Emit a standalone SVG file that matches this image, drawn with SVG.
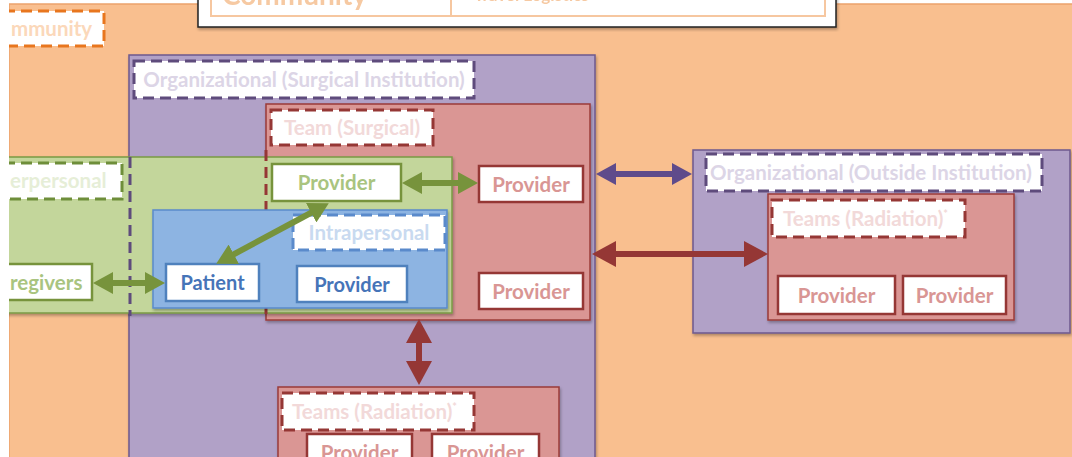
<svg xmlns="http://www.w3.org/2000/svg" width="1072" height="457" viewBox="0 0 1072 457">
<defs>
<style>
text{font-family:Lato,"Open Sans","Liberation Sans",sans-serif;font-weight:bold;}
.org{fill:#B1A1C7;stroke:#6E5A8E;stroke-width:1.5;}
.team{fill:#DA9694;stroke:#9B3B39;stroke-width:1.5;}
.grn{fill:#C3D69B;stroke:#7A9A44;stroke-width:1.5;}
.blu{fill:#8DB4E2;stroke:#5A8ACB;stroke-width:1.5;}
.lbl{fill:#FFFFFF;stroke-width:3;stroke-dasharray:11 6;}
.lp{stroke:#5E4B7C;}
.lr{stroke:#953735;}
.lg{stroke:#6E8E3A;}
.lb{stroke:#5A8ACB;}
.lo{stroke:#E8761E;}
.nd{fill:#FFFFFF;stroke-width:2.5;}
.nr{stroke:#953735;}
.ng{stroke:#77933C;}
.nb{stroke:#4F81BD;}
.tr{fill:#D99694;font-size:20.5px;}
.tg{fill:#A9C47F;font-size:20.5px;}
.tb{fill:#4674B8;font-size:20px;}
.tl{font-size:20.5px;}
.conn{fill:none;stroke-width:6;}
</style>
<filter id="sh" x="-5%" y="-5%" width="110%" height="115%">
<feDropShadow dx="1" dy="2" stdDeviation="1.5" flood-color="#000" flood-opacity="0.3"/>
</filter>
<marker id="ag" viewBox="0 0 20 22" refX="10" refY="11" markerWidth="20" markerHeight="22" markerUnits="userSpaceOnUse" orient="auto-start-reverse"><path d="M0,0 L20,11 L0,22 Z" fill="#77933C"/></marker>
<marker id="ap" viewBox="0 0 20 22" refX="10" refY="11" markerWidth="20" markerHeight="22" markerUnits="userSpaceOnUse" orient="auto-start-reverse"><path d="M0,0 L20,11 L0,22 Z" fill="#5F4B8B"/></marker>
<marker id="ar" viewBox="0 0 24 26" refX="12" refY="13" markerWidth="24" markerHeight="26" markerUnits="userSpaceOnUse" orient="auto-start-reverse"><path d="M0,0 L24,13 L0,26 Z" fill="#953735"/></marker>
</defs>
<rect x="0" y="0" width="1072" height="457" fill="#FFFFFF"/>
<g id="community">
<rect x="9" y="4" width="1070" height="460" fill="#F9BF8F" stroke="#EBA36C" stroke-width="1.5"/>
<rect x="4" y="11" width="100" height="35" class="lbl lo"/>
<text x="11" y="36" class="tl" fill="#FBD8BA">mmunity</text>
</g>
<g id="legend" filter="url(#sh)">
<rect x="198" y="-6" width="638" height="33" fill="#FFFFFF" stroke="#222222" stroke-width="1.5"/>
<rect x="211" y="-20" width="614" height="36" fill="none" stroke="#F6C7A0" stroke-width="2"/>
<line x1="451" y1="-20" x2="451" y2="16" stroke="#F6C7A0" stroke-width="2"/>
<text x="222" y="5" font-size="28" fill="#F6C9A2">Community</text>
<text x="474" y="1" font-size="17" fill="#F6C9A2">Travel Logistics</text>
</g>
<g id="org-surgical">
<rect x="129" y="55" width="466" height="410" class="org" filter="url(#sh)"/>
<rect x="134" y="61" width="340" height="37" class="lbl lp"/>
<text x="304" y="87" class="tl" fill="#DCD5E6" text-anchor="middle">Organizational (Surgical Institution)</text>
</g>
<g id="team-surgical">
<rect x="266" y="104" width="324" height="216" class="team" filter="url(#sh)"/>
<rect x="271" y="110" width="162" height="35" class="lbl lr"/>
<text x="352" y="135" class="tl" fill="#F2D9D9" text-anchor="middle">Team (Surgical)</text>
</g>
<g id="interpersonal">
<rect x="5" y="157" width="447" height="156" class="grn" filter="url(#sh)"/>
<rect x="4" y="163" width="118" height="36" class="lbl lg"/>
<text x="10" y="188" class="tl" fill="#E6EED7">erpersonal</text>
<line x1="130" y1="157" x2="130" y2="316" stroke="#5E4B7C" stroke-width="3" stroke-dasharray="11 6"/>
<line x1="266" y1="150" x2="266" y2="320" stroke="#953735" stroke-width="3" stroke-dasharray="11 6"/>
</g>
<g id="intrapersonal">
<rect x="153" y="210" width="294" height="98" class="blu" filter="url(#sh)"/>
<rect x="293" y="215" width="152" height="35" class="lbl lb"/>
<text x="369" y="240" class="tl" fill="#C9DAF0" text-anchor="middle" font-size="22">Intrapersonal</text>
</g>
<g id="caregivers">
<rect x="4" y="264" width="88" height="36" class="nd ng"/>
<text x="10" y="290" class="tg">regivers</text>
</g>
<g id="patient">
<rect x="166" y="264" width="93" height="37" class="nd nb"/>
<text x="212.5" y="290" class="tb" text-anchor="middle">Patient</text>
</g>
<g id="provider-blue">
<rect x="297" y="266" width="110" height="36" class="nd nb"/>
<text x="352" y="292" class="tb" text-anchor="middle">Provider</text>
</g>
<g id="provider-green">
<rect x="272" y="164" width="129" height="37" class="nd ng"/>
<text x="336.5" y="190" class="tg" text-anchor="middle">Provider</text>
</g>
<g id="provider-surgical-1">
<rect x="479" y="166" width="104" height="36" class="nd nr"/>
<text x="531" y="192" class="tr" text-anchor="middle">Provider</text>
</g>
<g id="provider-surgical-2">
<rect x="479" y="273" width="104" height="36" class="nd nr"/>
<text x="531" y="299" class="tr" text-anchor="middle">Provider</text>
</g>
<g id="org-outside">
<rect x="693" y="150" width="377" height="183" class="org" filter="url(#sh)"/>
<rect x="706" y="154" width="336" height="37" class="lbl lp"/>
<text x="871" y="180" class="tl" fill="#DCD5E6" text-anchor="middle">Organizational (Outside Institution)</text>
</g>
<g id="teams-radiation-outside">
<rect x="768" y="194" width="246" height="126" class="team" filter="url(#sh)"/>
<rect x="772" y="200" width="193" height="37" class="lbl lr"/>
<text x="783" y="226" class="tl" fill="#F2D9D9">Teams (Radiation)<tspan dy="-8" font-size="11">*</tspan></text>
</g>
<g id="provider-outside-1">
<rect x="778" y="276" width="117" height="38" class="nd nr"/>
<text x="836.5" y="303" class="tr" text-anchor="middle">Provider</text>
</g>
<g id="provider-outside-2">
<rect x="903" y="276" width="103" height="38" class="nd nr"/>
<text x="954.5" y="303" class="tr" text-anchor="middle">Provider</text>
</g>
<g id="teams-radiation-inside">
<rect x="278" y="387" width="281" height="90" class="team" filter="url(#sh)"/>
<rect x="282" y="393" width="192" height="37" class="lbl lr"/>
<text x="292" y="419" class="tl" fill="#F2D9D9">Teams (Radiation)<tspan dy="-8" font-size="11">*</tspan></text>
</g>
<g id="provider-inside-1">
<rect x="307" y="434" width="105" height="36" class="nd nr"/>
<text x="359.5" y="460" class="tr" text-anchor="middle">Provider</text>
</g>
<g id="provider-inside-2">
<rect x="432" y="434" width="107" height="36" class="nd nr"/>
<text x="485.5" y="460" class="tr" text-anchor="middle">Provider</text>
</g>
<g id="connectors">
<path d="M103,283 L155,283" class="conn" stroke="#77933C" marker-start="url(#ag)" marker-end="url(#ag)"/>
<path d="M225,259 L320,208" class="conn" stroke="#77933C" marker-start="url(#ag)" marker-end="url(#ag)"/>
<path d="M412,183 L468,183" class="conn" stroke="#77933C" marker-start="url(#ag)" marker-end="url(#ag)"/>
<path d="M606,174 L682,174" class="conn" stroke="#5F4B8B" marker-start="url(#ap)" marker-end="url(#ap)"/>
<path d="M604,254 L756,254" class="conn" stroke="#953735" stroke-width="7" marker-start="url(#ar)" marker-end="url(#ar)"/>
<path d="M419,331 L419,373" class="conn" stroke="#953735" stroke-width="7" marker-start="url(#ar)" marker-end="url(#ar)"/>
</g>
<rect x="0" y="0" width="9" height="457" fill="#FFFFFF"/>
</svg>
